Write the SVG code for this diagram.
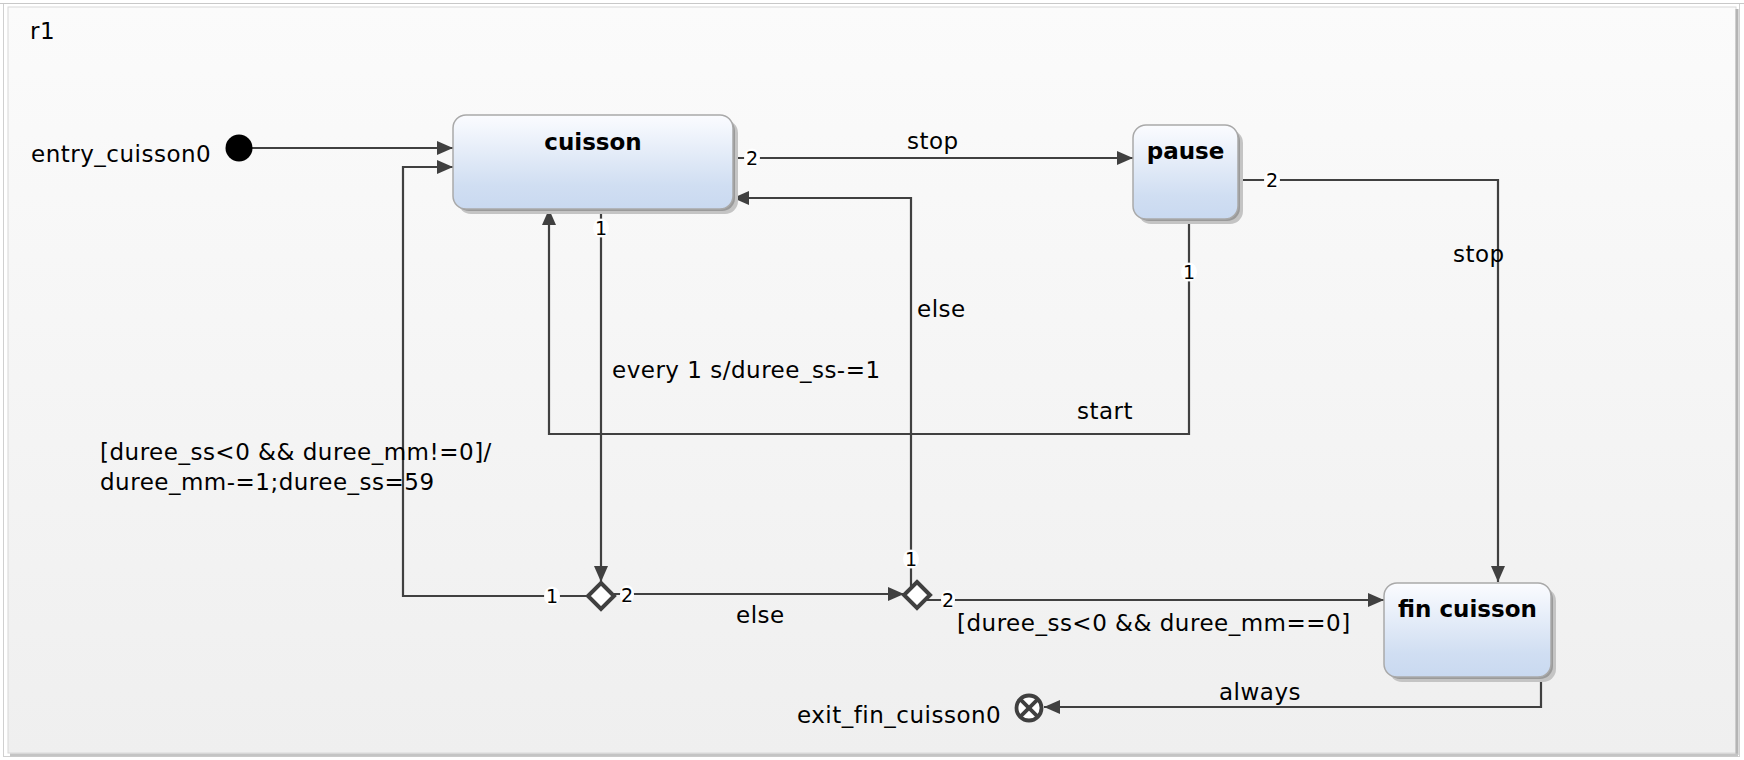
<svg xmlns="http://www.w3.org/2000/svg" width="1744" height="760" viewBox="0 0 1744 760">
  <defs>
    <linearGradient id="panelGrad" x1="0" y1="0" x2="0" y2="1">
      <stop offset="0" stop-color="#fbfbfb"/>
      <stop offset="1" stop-color="#efefef"/>
    </linearGradient>
    <linearGradient id="stateGrad" x1="0" y1="0" x2="0" y2="1">
      <stop offset="0" stop-color="#fbfcff"/>
      <stop offset="0.75" stop-color="#d0def2"/>
      <stop offset="1" stop-color="#c9d9f0"/>
    </linearGradient>
    <marker id="arr" markerWidth="17" markerHeight="15" refX="16" refY="7" orient="auto" markerUnits="userSpaceOnUse">
      <path d="M0,0 L16,7 L0,14 z" fill="#404040"/>
    </marker>
    <style>
      .lbl { font-family: "DejaVu Sans", Verdana, sans-serif; font-size: 23px; letter-spacing: 0.5px; fill: #000; }
      .title { font-family: "DejaVu Sans", Verdana, sans-serif; font-size: 23px; font-weight: bold; fill: #000; text-anchor: middle; }
      .num { font-family: "DejaVu Sans", Verdana, sans-serif; font-size: 19px; fill: #000; text-anchor: middle; }
      .numbg { fill: #ffffff; }
      .conn { fill: none; stroke: #404040; stroke-width: 2.2; }
      .arrow { marker-end: url(#arr); }
      .box { fill: url(#stateGrad); stroke: #a9a9a9; stroke-width: 1.5; }
      .shadow1 { fill: #9a9a9a; }
      .shadow2 { fill: #c4c4c4; }
      .choice { fill: #ffffff; stroke: #404040; stroke-width: 4; }
    </style>
  </defs>

  <!-- region frame -->
  <g id="region">
    <rect x="3.5" y="3.5" width="1736" height="753" fill="none" stroke="#d0d0d0"/>
    <line x1="0" y1="3.5" x2="1744" y2="3.5" stroke="#c8c8c8"/>
    <rect x="8" y="7" width="1728" height="746" fill="url(#panelGrad)" stroke="#d8d8d8"/>
    <line x1="1737" y1="9" x2="1737" y2="755" stroke="#b4b4b4" stroke-width="3"/>
    <line x1="10" y1="755" x2="1738" y2="755" stroke="#c4c4c4" stroke-width="3"/>
    <text class="lbl" x="30" y="39">r1</text>
  </g>

  <!-- connectors -->
  <g id="connectors">
    <!-- entry -> cuisson -->
    <line class="conn arrow" x1="252" y1="148" x2="453" y2="148"/>
    <!-- cuisson -> pause : stop -->
    <line class="conn arrow" x1="733" y1="158" x2="1133" y2="158"/>
    <text class="lbl" x="907" y="149">stop</text>
    <!-- pause -> fin cuisson : stop -->
    <polyline class="conn arrow" points="1238,180 1498,180 1498,582"/>
    <text class="lbl" x="1453" y="262">stop</text>
    <!-- pause -> cuisson : start -->
    <polyline class="conn arrow" points="1189,219 1189,434 549,434 549,209"/>
    <text class="lbl" x="1077" y="419">start</text>
    <!-- cuisson -> choice1 : every 1 s -->
    <line class="conn arrow" x1="601" y1="209" x2="601" y2="582"/>
    <text class="lbl" x="612" y="378">every 1 s/duree_ss-=1</text>
    <!-- choice1 -> cuisson : guard -->
    <polyline class="conn arrow" points="588,596 403,596 403,167 453,167"/>
    <text class="lbl" x="100" y="460">[duree_ss&lt;0 &amp;&amp; duree_mm!=0]/</text>
    <text class="lbl" x="100" y="490">duree_mm-=1;duree_ss=59</text>
    <!-- choice1 -> choice2 : else -->
    <line class="conn arrow" x1="614" y1="594" x2="904" y2="594"/>
    <text class="lbl" x="736" y="623">else</text>
    <!-- choice2 -> cuisson : else -->
    <polyline class="conn arrow" points="911,587 911,198 733,198"/>
    <text class="lbl" x="917" y="317">else</text>
    <!-- choice2 -> fin cuisson -->
    <line class="conn arrow" x1="926" y1="600" x2="1384" y2="600"/>
    <text class="lbl" x="957" y="631">[duree_ss&lt;0 &amp;&amp; duree_mm==0]</text>
    <!-- fin cuisson -> exit : always -->
    <polyline class="conn arrow" points="1541,677 1541,707 1044,707"/>
    <text class="lbl" x="1219" y="700">always</text>

    <!-- priority labels -->
    <ellipse class="numbg" cx="752" cy="158" rx="8" ry="9.5"/>
    <text class="num" x="752" y="165">2</text>
    <ellipse class="numbg" cx="601" cy="228" rx="8" ry="9.5"/>
    <text class="num" x="601" y="235">1</text>
    <ellipse class="numbg" cx="1272" cy="180" rx="8" ry="9.5"/>
    <text class="num" x="1272" y="187">2</text>
    <ellipse class="numbg" cx="1189" cy="272" rx="8" ry="9.5"/>
    <text class="num" x="1189" y="279">1</text>
    <ellipse class="numbg" cx="552" cy="596" rx="8" ry="9.5"/>
    <text class="num" x="552" y="603">1</text>
    <ellipse class="numbg" cx="627" cy="594.5" rx="7" ry="9.5"/>
    <text class="num" x="627" y="601.5">2</text>
    <ellipse class="numbg" cx="911" cy="559" rx="8" ry="9.5"/>
    <text class="num" x="911" y="566">1</text>
    <ellipse class="numbg" cx="948" cy="599.5" rx="7" ry="9.5"/>
    <text class="num" x="948" y="606.5">2</text>
  </g>

  <!-- entry node -->
  <g id="entry_cuisson0">
    <circle cx="239" cy="148" r="13.5" fill="#000"/>
    <text class="lbl" x="31" y="162">entry_cuisson0</text>
  </g>

  <!-- cuisson -->
  <g id="cuisson">
    <rect class="shadow2" x="458" y="120" width="280" height="94" rx="13"/>
    <rect class="shadow1" x="456" y="118" width="279" height="93" rx="13"/>
    <rect class="box" x="453" y="115" width="280" height="94" rx="13"/>
    <text class="title" x="593" y="150">cuisson</text>
  </g>

  <!-- pause -->
  <g id="pause">
    <rect class="shadow2" x="1138" y="130" width="105" height="94" rx="13"/>
    <rect class="shadow1" x="1136" y="128" width="104" height="93" rx="13"/>
    <rect class="box" x="1133" y="125" width="105" height="94" rx="13"/>
    <text class="title" x="1185.5" y="159">pause</text>
  </g>

  <!-- fin cuisson -->
  <g id="fin_cuisson">
    <rect class="shadow2" x="1389" y="588" width="167" height="94" rx="13"/>
    <rect class="shadow1" x="1387" y="586" width="166" height="93" rx="13"/>
    <rect class="box" x="1384" y="583" width="167" height="94" rx="13"/>
    <text class="title" x="1467.5" y="617">fin cuisson</text>
  </g>

  <!-- choice 1 -->
  <g id="choice1">
    <path class="choice" d="M601,583 L614,596 L601,609 L588,596 Z"/>
  </g>

  <!-- choice 2 -->
  <g id="choice2">
    <path class="choice" d="M917,582 L930,595 L917,608 L904,595 Z"/>
  </g>

  <!-- exit node -->
  <g id="exit_fin_cuisson0">
    <circle cx="1029" cy="708" r="12.5" fill="#fff" stroke="#404040" stroke-width="3.8"/>
    <line x1="1020.3" y1="699.3" x2="1037.7" y2="716.7" stroke="#404040" stroke-width="3.8"/>
    <line x1="1037.7" y1="699.3" x2="1020.3" y2="716.7" stroke="#404040" stroke-width="3.8"/>
    <text class="lbl" x="797" y="723">exit_fin_cuisson0</text>
  </g>
</svg>
